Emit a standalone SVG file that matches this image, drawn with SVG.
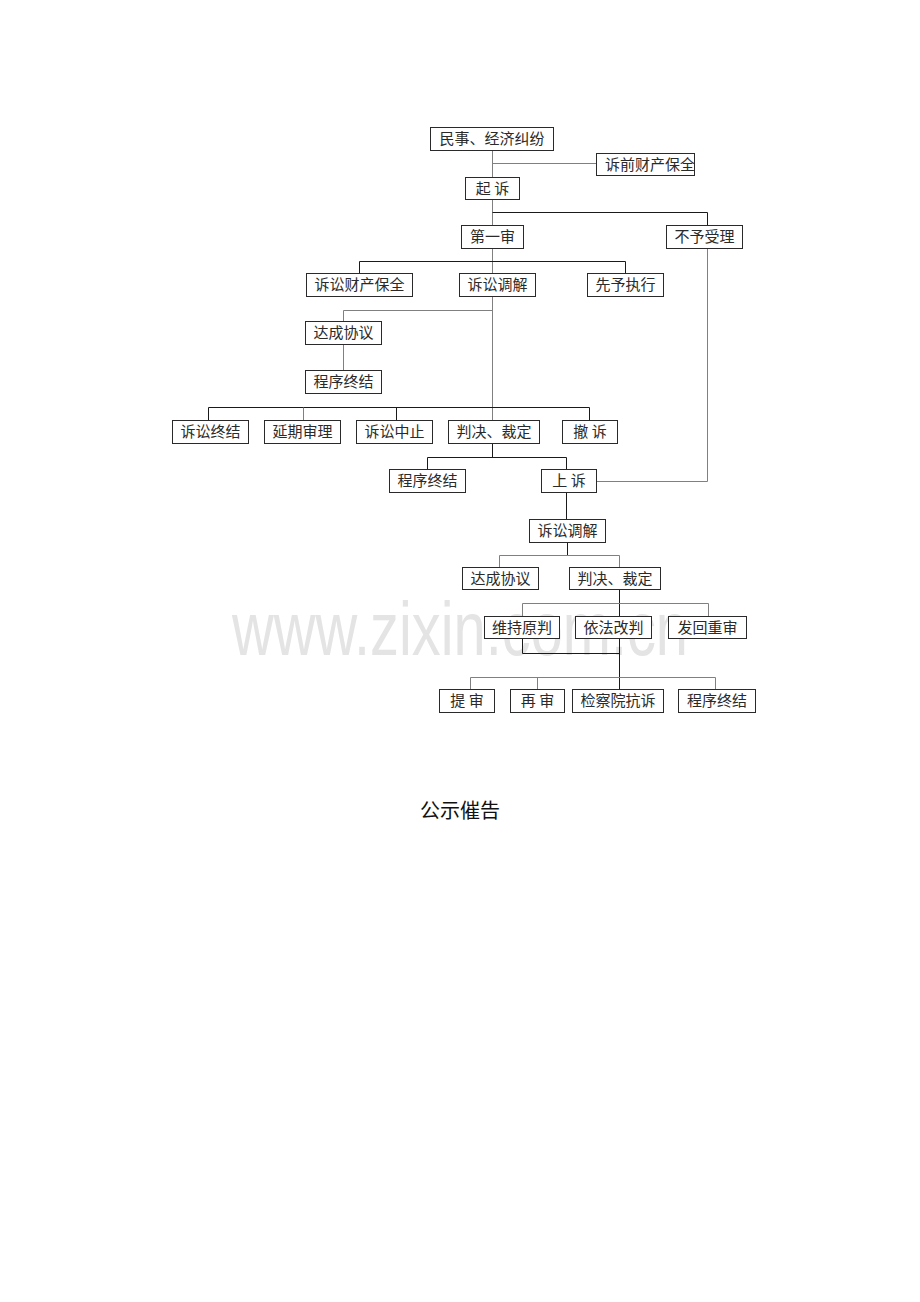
<svg xmlns="http://www.w3.org/2000/svg" width="920" height="1302" viewBox="0 0 920 1302">
<style>
.bx{fill:#fff;stroke:#2a2a2a;stroke-width:1}
.t{font-family:"Noto Sans CJK SC","Noto Sans CJK JP",sans-serif;font-size:15px;fill:#2a2a2a;text-anchor:middle}
.k{fill:none;stroke:#1a1a1a;stroke-width:1}
.g{fill:none;stroke:#808080;stroke-width:1}
.wm{font-family:"Liberation Sans",Arial,sans-serif;font-size:76px;fill:#e4e4e4}
</style>
<defs>
<clipPath id="c1"><rect x="596" y="153" width="99" height="22"/></clipPath>
</defs>
<rect width="920" height="1302" fill="#fff"/>
<text class="wm" x="232" y="655" textLength="456" lengthAdjust="spacingAndGlyphs">www.zixin.com.cn</text>
<g id="connectors">
<path class="g" d="M492.5 150V177M492.5 163.5H596"/>
<path class="g" d="M492.5 199V225"/>
<path class="k" d="M492.5 212.5H707.5V225"/>
<path class="g" d="M492.5 248V273"/>
<path class="k" d="M359.5 273V261.5H625.5V273"/>
<path class="g" d="M492.5 296V420"/>
<path class="g" d="M343.5 321V310.5H492.5"/>
<path class="g" d="M343.5 345V370"/>
<path class="k" d="M208.5 420V407.5H589.5V420M396.5 407.5V420"/>
<path class="g" d="M303.5 407.5V420"/>
<path class="k" d="M492.5 443V457.5M427.5 469V457.5H566.5V469"/>
<path class="g" d="M707.5 248V481.5H596"/>
<path class="k" d="M566.5 492V519"/>
<path class="k" d="M567.5 542V555.5"/>
<path class="g" d="M499.5 567V555.5H619.5V567"/>
<path class="k" d="M619.5 589V616"/>
<path class="g" d="M522.5 616V603.5H708.5V616"/>
<path class="k" d="M522.5 638V653.5H619.5M619.5 638V689"/>
<path class="g" d="M470.5 689V677.5H715.5V689M537.5 677.5V689"/>
</g>
<g id="n1"><rect class="bx" x="430.5" y="127.5" width="123" height="23"/><text class="t" x="492" y="144">民事、经济纠纷</text></g>
<g id="n2"><rect class="bx" x="596.5" y="153.5" width="98" height="22"/><text class="t" x="650" y="170" clip-path="url(#c1)">诉前财产保全</text></g>
<g id="n3"><rect class="bx" x="465.5" y="177.5" width="54" height="22"/><text class="t" x="492.5" y="194">起 诉</text></g>
<g id="n4"><rect class="bx" x="461.5" y="225.5" width="62" height="23"/><text class="t" x="492.5" y="242">第一审</text></g>
<g id="n5"><rect class="bx" x="666.5" y="225.5" width="76" height="23"/><text class="t" x="704.5" y="242">不予受理</text></g>
<g id="n6"><rect class="bx" x="306.5" y="273.5" width="106" height="23"/><text class="t" x="359.5" y="290">诉讼财产保全</text></g>
<g id="n7"><rect class="bx" x="459.5" y="273.5" width="76" height="23"/><text class="t" x="497.5" y="290">诉讼调解</text></g>
<g id="n8"><rect class="bx" x="587.5" y="273.5" width="76" height="23"/><text class="t" x="625.5" y="290">先予执行</text></g>
<g id="n9"><rect class="bx" x="305.5" y="321.5" width="76" height="23"/><text class="t" x="343.5" y="338">达成协议</text></g>
<g id="n10"><rect class="bx" x="305.5" y="370.5" width="76" height="23"/><text class="t" x="343.5" y="387">程序终结</text></g>
<g id="n11"><rect class="bx" x="172.5" y="420.5" width="76" height="23"/><text class="t" x="210.5" y="437">诉讼终结</text></g>
<g id="n12"><rect class="bx" x="264.5" y="420.5" width="76" height="23"/><text class="t" x="302.5" y="437">延期审理</text></g>
<g id="n13"><rect class="bx" x="356.5" y="420.5" width="76" height="23"/><text class="t" x="394.5" y="437">诉讼中止</text></g>
<g id="n14"><rect class="bx" x="448.5" y="420.5" width="91" height="23"/><text class="t" x="494" y="437">判决、裁定</text></g>
<g id="n15"><rect class="bx" x="562.5" y="420.5" width="55" height="23"/><text class="t" x="590" y="437">撤 诉</text></g>
<g id="n16"><rect class="bx" x="389.5" y="469.5" width="76" height="23"/><text class="t" x="427.5" y="486">程序终结</text></g>
<g id="n17"><rect class="bx" x="541.5" y="469.5" width="55" height="23"/><text class="t" x="569" y="486">上 诉</text></g>
<g id="n18"><rect class="bx" x="529.5" y="519.5" width="76" height="23"/><text class="t" x="567.5" y="536">诉讼调解</text></g>
<g id="n19"><rect class="bx" x="462.5" y="567.5" width="76" height="22"/><text class="t" x="500.5" y="584">达成协议</text></g>
<g id="n20"><rect class="bx" x="569.5" y="567.5" width="91" height="22"/><text class="t" x="615" y="584">判决、裁定</text></g>
<g id="n21"><rect class="bx" x="484.5" y="616.5" width="75" height="22"/><text class="t" x="522" y="633">维持原判</text></g>
<g id="n22"><rect class="bx" x="575.5" y="616.5" width="76" height="22"/><text class="t" x="613.5" y="633">依法改判</text></g>
<g id="n23"><rect class="bx" x="668.5" y="616.5" width="78" height="22"/><text class="t" x="707.5" y="633">发回重审</text></g>
<g id="n24"><rect class="bx" x="439.5" y="689.5" width="55" height="23"/><text class="t" x="467" y="706">提 审</text></g>
<g id="n25"><rect class="bx" x="510.5" y="689.5" width="54" height="23"/><text class="t" x="537.5" y="706">再 审</text></g>
<g id="n26"><rect class="bx" x="572.5" y="689.5" width="91" height="23"/><text class="t" x="618" y="706">检察院抗诉</text></g>
<g id="n27"><rect class="bx" x="678.5" y="689.5" width="77" height="23"/><text class="t" x="717" y="706">程序终结</text></g>
<text x="460" y="818" style="font-family:'Noto Sans CJK SC',sans-serif;font-size:20px;fill:#111;text-anchor:middle">公示催告</text>
</svg>
